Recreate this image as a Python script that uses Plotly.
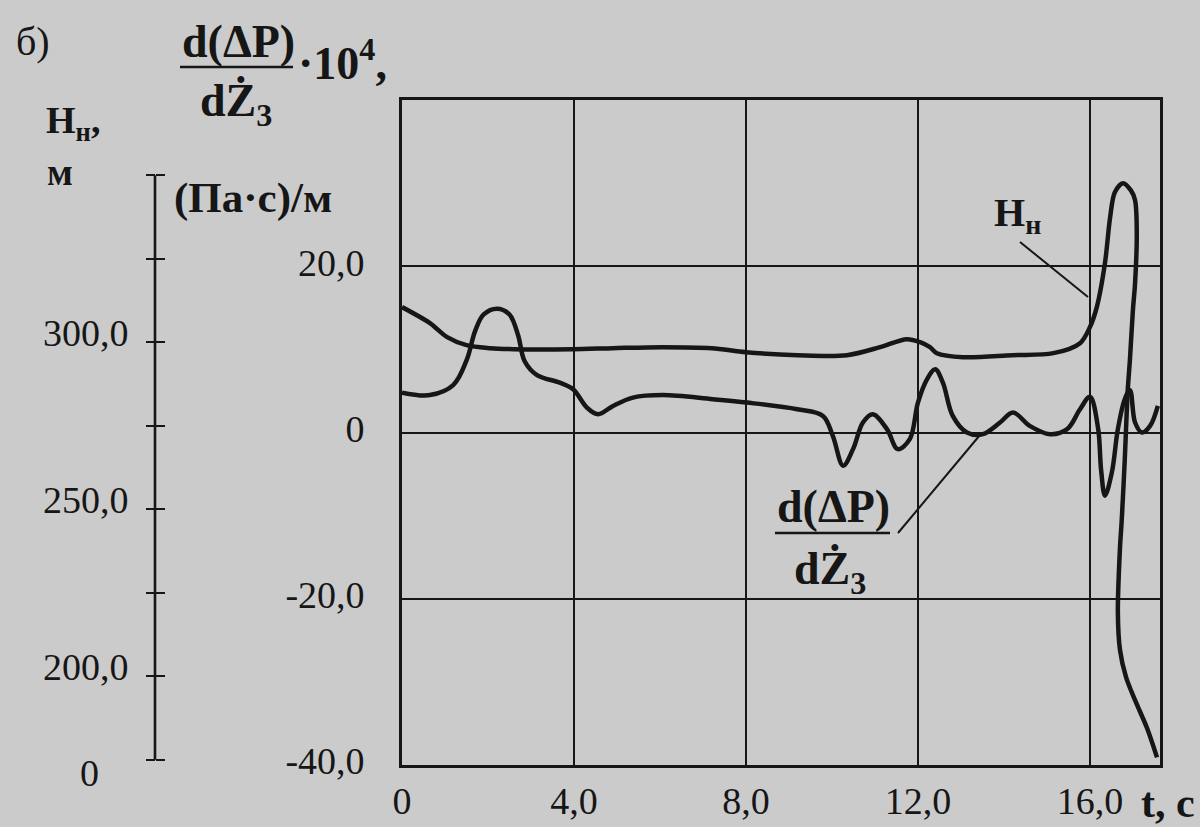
import plotly.graph_objects as go

W, HGT = 1200, 827
INK = "#161616"
BG = "#cbcbcb"
FONT = "Liberation Serif"


def px(x):
    return x / W


def py(y):
    return 1 - y / HGT


# ---- data ----
t_H = [0, 0.65, 1.05, 1.5, 2.05, 2.6, 3.95, 4.9, 6.05, 7.2, 8.0, 9.2, 10.35,
       11.12, 11.74, 12.05, 12.28, 12.44, 13.05, 14.2, 15.15, 15.77, 16.0,
       16.16, 16.35, 16.47, 16.58, 16.77, 16.95, 17.05, 17.09, 17.05, 17.0,
       16.93, 16.88, 16.81, 16.74, 16.70, 16.65, 16.70, 16.84, 17.05, 17.33,
       17.56]
H_n = [310.5, 305.7, 301.5, 299.1, 298.2, 297.9, 297.9, 298.2, 298.5, 298.2,
       297.0, 296.1, 296.1, 298.5, 300.9, 300.0, 298.5, 296.7, 295.5, 296.1,
       296.7, 299.7, 304.5, 310.5, 323.7, 337.4, 344.9, 347.6, 345.5, 342.5,
       332.6, 317.7, 309.6, 294.6, 285.6, 264.7, 246.7, 238.6, 218.9, 207.8,
       199.7, 192.8, 184.4, 175.7]

t_d = [0, 0.65, 1.19, 1.51, 1.7, 1.9, 2.21, 2.5, 2.7, 2.85, 3.14, 3.67,
       3.98, 4.3, 4.56, 4.91, 5.37, 6.07, 7.23, 8.02, 9.19, 9.79, 10.02, 10.26,
       10.49, 10.72, 10.95, 11.28, 11.53, 11.81, 12.0, 12.21, 12.4, 12.58,
       12.81, 13.14, 13.51, 13.91, 14.21, 14.6, 15.07, 15.47, 15.77, 16.0,
       16.19, 16.26, 16.35, 16.51, 16.65, 16.81, 16.93, 17.05, 17.21, 17.4,
       17.58]
dP = [4.8, 4.5, 5.7, 8.8, 12.2, 14.2, 14.9, 14.2, 11.7, 8.6, 6.9, 6.0, 5.2,
      3.0, 2.2, 3.2, 4.2, 4.5, 4.0, 3.6, 2.8, 2.0, -0.4, -4.0, -2.0, 1.2, 2.2,
      0.4, -2.0, -0.8, 3.6, 6.4, 7.6, 6.0, 2.0, 0.0, -0.2, 1.2, 2.4, 0.8, -0.2,
      0.4, 2.8, 4.3, 0.5, -4.5, -7.6, -4.8, 0.4, 4.0, 5.1, 1.2, 0.0, 0.8, 3.2]

x_ticks = [0, 4, 8, 12, 16]
x_tick_text = ["0", "4,0", "8,0", "12,0", "16,0"]
d_ticks = [-40, -20, 0, 20, 40]
d_tick_text = ["-40,0", "-20,0", "0", "20,0", ""]
H_ticks = [175, 200, 225, 250, 275, 300, 325, 350]
H_tick_text = ["", "200,0", "", "250,0", "", "300,0", "", ""]

fig = go.Figure()
fig.add_trace(go.Scatter(
    x=t_d, y=dP, mode="lines", yaxis="y", hoverinfo="skip", showlegend=False,
    line=dict(color=INK, width=4.5, shape="spline", smoothing=1.0)))
fig.add_trace(go.Scatter(
    x=t_H, y=H_n, mode="lines", yaxis="y2", hoverinfo="skip", showlegend=False,
    line=dict(color=INK, width=4.5, shape="spline", smoothing=0.9)))
fig.add_trace(go.Scatter(
    x=t_H, y=H_n, mode="lines", yaxis="y3", hoverinfo="skip", showlegend=False,
    line=dict(color="rgba(0,0,0,0)", width=1)))

tickfont = dict(family=FONT, size=38, color=INK)
H_range = [173.4, 372.5]

fig.update_layout(
    width=W, height=HGT,
    margin=dict(l=0, r=0, t=0, b=0),
    paper_bgcolor=BG, plot_bgcolor=BG,
    font=dict(family=FONT, color=INK),
    xaxis=dict(domain=[px(402), px(1160)], range=[0, 17.63],
               tickvals=x_ticks, ticktext=x_tick_text, tickfont=tickfont,
               showgrid=True, gridcolor=INK, gridwidth=2.2,
               showline=True, mirror=True, linecolor=INK, linewidth=2.6,
               zeroline=False, ticks="", ticklabelstandoff=1,
               automargin=False, fixedrange=True),
    yaxis=dict(domain=[py(765), py(100)], range=[-40, 40],
               tickvals=d_ticks, ticktext=d_tick_text, tickfont=tickfont,
               showgrid=True, gridcolor=INK, gridwidth=2.2,
               showline=True, mirror=True, linecolor=INK, linewidth=2.6,
               zeroline=False, ticks="", ticklabelstandoff=27,
               ticklabelshift=-4,
               automargin=False, fixedrange=True),
    yaxis2=dict(overlaying="y", anchor="free", position=px(155), side="left",
                range=H_range, tickvals=H_ticks, ticktext=H_tick_text,
                tickfont=tickfont, ticks="outside", ticklen=9, tickwidth=2.2,
                tickcolor=INK, showline=False, showgrid=False, zeroline=False,
                ticklabelstandoff=10, ticklabelshift=-9,
                automargin=False, fixedrange=True),
    yaxis3=dict(overlaying="y", anchor="free", position=px(155), side="right",
                range=H_range, tickvals=H_ticks, showticklabels=False,
                ticks="outside", ticklen=9, tickwidth=2.2, tickcolor=INK,
                showline=False, showgrid=False, zeroline=False,
                automargin=False, fixedrange=True),
)

# H axis line (only between 175 and 350)
fig.add_shape(type="line", xref="paper", yref="y2", x0=px(155), x1=px(155),
              y0=175, y1=350, line=dict(color=INK, width=2.6))
# fraction bars
fig.add_shape(type="line", xref="paper", yref="paper", x0=px(180), x1=px(293),
              y0=py(67), y1=py(67), line=dict(color=INK, width=2.6))
fig.add_shape(type="line", xref="paper", yref="paper", x0=px(775), x1=px(890),
              y0=py(533), y1=py(533), line=dict(color=INK, width=2.6))
# leader lines
fig.add_shape(type="line", xref="paper", yref="paper", x0=px(1020), x1=px(1088),
              y0=py(242), y1=py(297), line=dict(color=INK, width=2))
fig.add_shape(type="line", xref="paper", yref="paper", x0=px(898), x1=px(980),
              y0=py(533), y1=py(435), line=dict(color=INK, width=2))


def note(text, x, y, xanchor="center", size=36):
    fig.add_annotation(text=text, x=px(x), y=py(y), xref="paper", yref="paper",
                       xanchor=xanchor, yanchor="middle", showarrow=False,
                       font=dict(family=FONT, size=size, color=INK))


note("б)", 14, 42, "left", 40)
note("<b>d(ΔP)</b>", 238, 42, "center", 46)
note("<b>dŻ<sub>3</sub></b>", 236, 104, "center", 46)
note("<b>·10<sup>4</sup>,</b>", 296, 60, "left", 46)
note("<b>H<sub>н</sub>,</b>", 44, 123, "left", 38)
note("<b>м</b>", 45, 172, "left", 38)
note("<b>(Па·с)/м</b>", 172, 198, "left", 43)
note("<b>H<sub>н</sub></b>", 992, 215, "left", 40)
note("<b>d(ΔP)</b>", 834, 506, "center", 46)
note("<b>dŻ<sub>3</sub></b>", 830, 572, "center", 46)
note("<b>t, c</b>", 1168, 803, "center", 42)
note("0", 89, 773, "center", 38)

fig.write_html("out.html")
